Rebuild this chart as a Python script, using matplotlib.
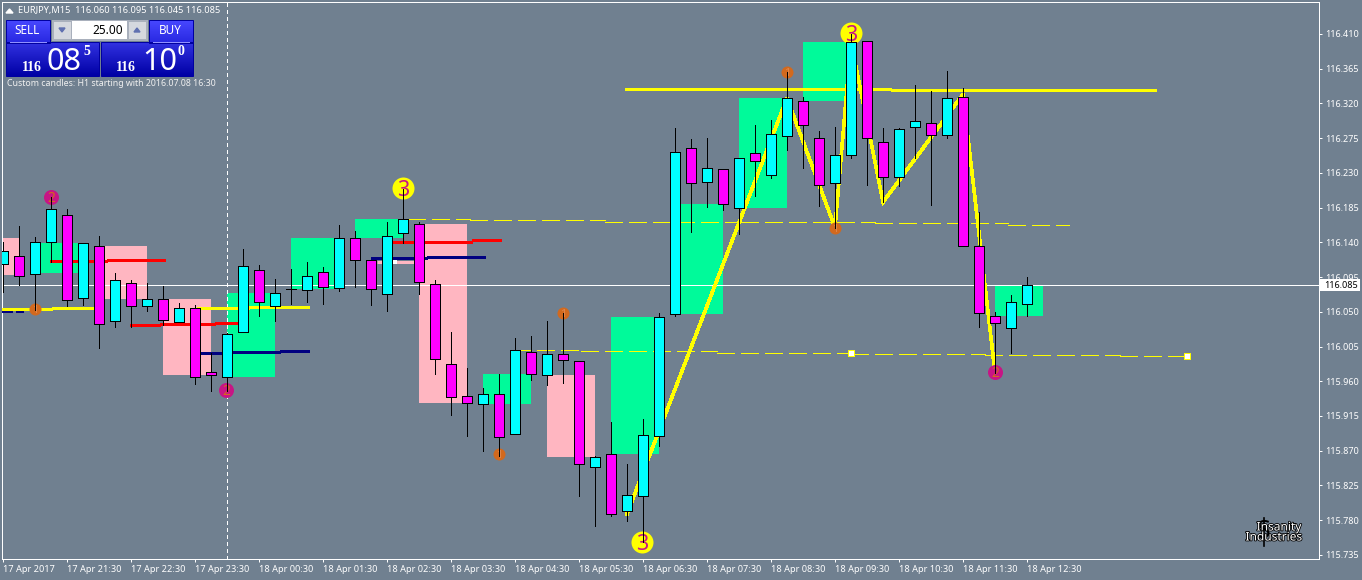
import numpy as np
import matplotlib
matplotlib.use("Agg")
import matplotlib.pyplot as plt
import matplotlib.patheffects as pe
from matplotlib.patches import Rectangle, Polygon

# M15 candles, index 0 is the first bar of the chart
opens = [116.112, 116.122, 116.099, 116.140, 116.175, 116.068, 116.135, 116.038, 116.087, 116.058,
         116.067, 116.037, 116.055, 115.972, 115.966, 116.024, 116.104, 116.058, 116.079, 116.078,
         116.102, 116.081, 116.146, 116.117, 116.073, 116.152, 116.164, 116.086, 115.982, 115.941,
         115.931, 115.944, 115.892, 115.998, 115.968, 115.995, 115.986, 115.849, 115.866, 115.792,
         115.811, 115.889, 116.047, 116.262, 116.218, 116.235, 116.185, 116.256, 116.227, 116.278,
         116.323, 116.275, 116.217, 116.253, 116.401, 116.270, 116.225, 116.289, 116.295, 116.279,
         116.328, 116.135, 116.045, 116.029, 116.060]
highs = [116.140, 116.161, 116.147, 116.199, 116.183, 116.139, 116.148, 116.100, 116.091, 116.087,
         116.083, 116.061, 116.059, 115.997, 116.023, 116.131, 116.111, 116.092, 116.105, 116.115,
         116.108, 116.162, 116.155, 116.117, 116.166, 116.209, 116.166, 116.091, 116.024, 115.977,
         115.951, 115.969, 116.016, 116.019, 116.038, 116.048, 115.986, 115.863, 115.907, 115.853,
         115.911, 116.048, 116.288, 116.274, 116.275, 116.235, 116.249, 116.292, 116.299, 116.361,
         116.328, 116.284, 116.289, 116.410, 116.401, 116.288, 116.288, 116.344, 116.336, 116.362,
         116.340, 116.179, 116.050, 116.072, 116.095]
lows = [116.076, 116.085, 116.052, 116.115, 116.058, 116.059, 116.003, 116.030, 116.030, 116.051,
        116.033, 116.037, 115.956, 115.947, 115.947, 116.024, 116.045, 116.038, 116.060, 116.063,
        116.060, 116.077, 116.082, 116.059, 116.051, 116.139, 116.073, 115.969, 115.916, 115.889,
        115.870, 115.863, 115.892, 115.962, 115.955, 115.958, 115.811, 115.772, 115.785, 115.779,
        115.752, 115.876, 116.045, 116.153, 116.186, 116.182, 116.151, 116.200, 116.223, 116.260,
        116.236, 116.187, 116.159, 116.249, 116.214, 116.192, 116.213, 116.249, 116.188, 116.275,
        116.135, 116.030, 115.971, 115.997, 116.045]
closes = [116.129, 116.096, 116.140, 116.183, 116.065, 116.139, 116.034, 116.091, 116.058, 116.067,
          116.039, 116.055, 115.966, 115.968, 116.021, 116.109, 116.063, 116.074, 116.079, 116.096,
          116.082, 116.146, 116.117, 116.079, 116.148, 116.170, 116.089, 115.989, 115.940, 115.932,
          115.944, 115.888, 116.001, 115.969, 115.995, 115.988, 115.853, 115.862, 115.788, 115.813,
          115.890, 116.043, 116.257, 116.217, 116.236, 116.190, 116.249, 116.245, 116.280, 116.327,
          116.292, 116.214, 116.253, 116.400, 116.275, 116.225, 116.287, 116.297, 116.279, 116.327,
          116.135, 116.048, 116.035, 116.063, 116.085]

# H1 custom candles: first bar, top price, bottom price
box_start = [-2, 2, 6, 10, 14, 18, 22, 26, 30, 34, 38, 42, 46, 50, 62]
box_top = [116.146, 116.139, 116.135, 116.067, 116.074, 116.146, 116.170, 116.164,
           115.969, 115.968, 116.043, 116.190, 116.327, 116.400, 116.083]
box_bottom = [116.098, 116.100, 116.067, 115.968, 115.966, 116.079, 116.146, 115.932,
              115.931, 115.862, 115.866, 116.047, 116.185, 116.323, 116.045]
box_green = [False, True, False, False, True, True, True, False,
             True, False, True, True, True, True, True]

# thick level lines (from bar, to bar, price)
red_levels = [(2.94, 6.5, 116.116), (6.5, 10.1, 116.117), (7.94, 9.81, 116.033), (9.81, 13.25, 116.034),
              (13.25, 14.8, 116.035), (24.4, 29.3, 116.141), (29.3, 31.1, 116.143)]
navy_levels = [(-0.06, 0.56, 116.051), (0.81, 1.25, 116.051), (12.3, 14.3, 115.996), (14.3, 17.3, 115.998),
               (17.3, 19.1, 115.999), (23.0, 26.5, 116.120), (26.5, 30.1, 116.121)]
yellow_levels = [(-0.06, 3.06, 116.054), (3.06, 6.06, 116.055), (12.1, 15.4, 116.055), (15.4, 19.1, 116.056),
                 (38.9, 55.5, 116.339), (55.5, 72.06, 116.337)]
# thin dashed levels
dash_levels = [(25.3, 29.2, 116.170), (29.2, 37.6, 116.169), (37.6, 46.1, 116.167), (46.1, 54.5, 116.166),
               (54.5, 62.8, 116.165), (62.8, 66.6, 116.163),
               (31.9, 36.1, 116.000), (36.1, 44.6, 115.999), (44.6, 53.0, 115.997), (53.0, 61.4, 115.995),
               (61.4, 69.8, 115.994), (69.8, 74.0, 115.993)]
square_x = [53, 74]
square_y = [115.997, 115.993]

# zigzag
zig_x = [39, 49, 52, 53, 55, 60, 62]
zig_y = [115.788, 116.327, 116.159, 116.400, 116.192, 116.332, 115.971]

# numbered dots
dots3_x = [25, 39.94, 53]
dots3_y = [116.210, 115.752, 116.411]
dots2_x = [3, 13.94, 62]
dots2_y = [116.199, 115.949, 115.972]
dots1_x = [2, 35, 31, 49, 52]
dots1_y = [116.054, 116.048, 115.866, 116.361, 116.159]

last_price = 116.085
crosshair_bar = 14

y_ticks = [115.735, 115.780, 115.825, 115.870, 115.915, 115.960, 116.005, 116.050,
           116.095, 116.140, 116.185, 116.230, 116.275, 116.320, 116.365, 116.410]
x_ticks = list(range(0, 65, 4))
x_labels = ["17 Apr 2017", "17 Apr 21:30", "17 Apr 22:30", "17 Apr 23:30", "18 Apr 00:30", "18 Apr 01:30",
            "18 Apr 02:30", "18 Apr 03:30", "18 Apr 04:30", "18 Apr 05:30", "18 Apr 06:30", "18 Apr 07:30",
            "18 Apr 08:30", "18 Apr 09:30", "18 Apr 10:30", "18 Apr 11:30", "18 Apr 12:30"]

BG = "#708090"
PX = 0.72  # one pixel in points at dpi 100
FONT = ["Noto Sans", "DejaVu Sans"]
plt.rcParams["font.family"] = FONT

fig = plt.figure(figsize=(13.62, 5.80), dpi=100, facecolor=BG)
ax = fig.add_axes([2 / 1362, 21 / 580, 1317 / 1362, 557 / 580], facecolor=BG)
ax.set_xlim(-1 / 16, 1316 / 16)
ax.set_ylim(116.454 - 0.0012957 * 559, 116.454 - 0.0012957 * 2)

for s in ax.spines.values():
    s.set_color("white")
    s.set_linewidth(PX)

ax.yaxis.tick_right()
ax.set_yticks(y_ticks)
ax.set_yticklabels([f"{v:.3f}" for v in y_ticks])
ax.set_xticks(x_ticks)
ax.set_xticklabels(x_labels, ha="left")
ax.tick_params(axis="y", colors="white", length=2.5, width=PX, labelsize=6.5, pad=2)
ax.tick_params(axis="x", colors="white", length=2.5, width=PX, labelsize=6.6, pad=2)

# boxes
for st, top, bot, g in zip(box_start, box_top, box_bottom, box_green):
    ax.add_patch(Rectangle((st, bot), 3, top - bot, facecolor="#00FA9A" if g else "#FFB6C1",
                           edgecolor="none", zorder=1, antialiased=False, clip_on=True))

# price line and crosshair
ax.axhline(last_price, color="white", lw=PX, zorder=2, antialiased=False)
ax.axvline(crosshair_bar, color="white", lw=PX, ls=(0, (3, 3)), zorder=2, antialiased=False)

# levels
for lev, col in [(red_levels, "#FF0000"), (navy_levels, "#000080"), (yellow_levels, "#FFFF00")]:
    for x0, x1, p in lev:
        ax.plot([x0, x1], [p, p], color=col, lw=3 * PX, solid_capstyle="butt", zorder=3, antialiased=False)
for x0, x1, p in dash_levels:
    ax.plot([x0, x1], [p, p], color="#FFFF00", lw=PX, ls=(0, (18, 6)), zorder=3, antialiased=False)
ax.scatter(square_x, square_y, s=16, marker="s", facecolor="white", edgecolor="#FFFF00", linewidths=PX, zorder=3)

# small pink trace with its white end point
ax.plot([23.4, 25.7], [116.115, 116.115], color="#FFB6C1", lw=3 * PX, solid_capstyle="butt", zorder=3)
ax.scatter([24.5], [116.115], s=9, marker="s", color="white", linewidths=0, zorder=3)

# zigzag
ax.plot(zig_x, zig_y, color="#FFFF00", lw=2.6 * PX, zorder=4, solid_joinstyle="miter", antialiased=False)

# dots
ax.scatter(dots3_x, dots3_y, s=251, color="#FFFF00", linewidths=0, zorder=5)
ax.scatter(dots2_x, dots2_y, s=117, color="#C71585", linewidths=0, zorder=5)
ax.scatter(dots1_x, dots1_y, s=75, color="#D2691E", linewidths=0, zorder=5)
for x, y in zip(dots3_x, dots3_y):
    ax.text(x, y, "3", color="#C71585", fontsize=15.5, fontweight="bold", ha="center", va="center_baseline", zorder=5.5)
for x, y in zip(dots2_x, dots2_y):
    ax.text(x, y, "2", color="#D2691E", fontsize=10, fontweight="bold", ha="center", va="center_baseline", zorder=5.5)
for x, y in zip(dots1_x, dots1_y):
    ax.text(x, y, "1", color="#E08A50", fontsize=8, fontweight="bold", ha="center", va="center_baseline", zorder=5.5)

# candles
idx = np.arange(len(opens))
opens_a, highs_a, lows_a, closes_a = map(np.array, (opens, highs, lows, closes))
ax.vlines(idx, lows_a, highs_a, color="black", lw=PX, zorder=6, antialiased=False)
up = closes_a >= opens_a
ax.bar(idx[up], (closes_a - opens_a)[up], bottom=opens_a[up], width=10 / 16, color="#00FFFF",
       edgecolor="black", linewidth=PX, zorder=7, antialiased=False)
ax.bar(idx[~up], (opens_a - closes_a)[~up], bottom=closes_a[~up], width=10 / 16, color="#FF00FF",
       edgecolor="black", linewidth=PX, zorder=7, antialiased=False)

# pixel layer for the trading panel and texts
ui = fig.add_axes([0, 0, 1, 1], facecolor="none")
ui.set_axis_off()


def gradient(x0, x1, y0, y1, c0, c1):
    g = np.linspace(0, 1, 32)[:, None, None]
    img = (1 - g) * np.array(c0)[None, None, :] + g * np.array(c1)[None, None, :]
    ui.imshow(img / 255, extent=(x0, x1, y1, y0), aspect="auto", interpolation="bilinear", zorder=2)
    ui.add_patch(Rectangle((x0, y0), x1 - x0, y1 - y0, fill=False, edgecolor="#0000A0", lw=PX, zorder=3))


ui.text(18, 10.5, "EURJPY,M15  116.060 116.095 116.045 116.085", color="white", fontsize=6.65, va="center")
ui.add_patch(Polygon([[6, 13], [13, 13], [9.5, 9]], color="white", zorder=3))

gradient(6, 50, 20, 43, (72, 72, 255), (40, 40, 225))
gradient(149, 193, 20, 43, (72, 72, 255), (40, 40, 225))
gradient(6, 99, 42, 76, (50, 50, 225), (0, 0, 165))
gradient(101, 193, 42, 76, (50, 50, 225), (0, 0, 165))
ui.plot([10, 46], [42, 42], color="#9090FF", lw=PX, zorder=4)
ui.plot([153, 189], [42, 42], color="#9090FF", lw=PX, zorder=4)

ui.add_patch(Rectangle((52, 20), 96, 21, facecolor="#A9B0BC", edgecolor="none", zorder=2))
ui.add_patch(Rectangle((72, 21), 55, 18, facecolor="white", edgecolor="none", zorder=3))
ui.add_patch(Rectangle((54, 22), 17, 17, facecolor="#D5D8DE", edgecolor="none", zorder=3))
ui.add_patch(Rectangle((129, 22), 17, 17, facecolor="#D5D8DE", edgecolor="none", zorder=3))
ui.add_patch(Polygon([[59, 28], [65, 28], [62, 32]], color="#6070B0", zorder=4))
ui.add_patch(Polygon([[134, 32], [140, 32], [137, 28]], color="#6070B0", zorder=4))

ui.text(27, 31, "SELL", color="white", fontsize=8.5, ha="center", va="center", zorder=5)
ui.text(170, 31, "BUY", color="white", fontsize=8.5, ha="center", va="center", zorder=5)
ui.text(123, 30, "25.00", color="black", fontsize=8.5, ha="right", va="center", zorder=5)

ui.text(22, 71, "116", color="white", fontsize=10, fontweight="bold", family="Liberation Serif", va="baseline", zorder=5)
ui.text(46, 70, "08", color="white", fontsize=22, va="baseline", zorder=5)
ui.text(83, 55, "5", color="white", fontsize=10, fontweight="bold", family="Liberation Serif", va="baseline", zorder=5)
ui.text(116, 71, "116", color="white", fontsize=10, fontweight="bold", family="Liberation Serif", va="baseline", zorder=5)
ui.text(142, 70, "10", color="white", fontsize=22, va="baseline", zorder=5)
ui.text(178, 55, "0", color="white", fontsize=10, fontweight="bold", family="Liberation Serif", va="baseline", zorder=5)

ui.text(7, 84, "Custom candles: H1 starting with 2016.07.08 16:30", color="#F0F0F0", fontsize=6.35, va="center", zorder=5)

# current price tag
ui.add_patch(Rectangle((1320, 279), 40, 12, facecolor="white", edgecolor="none", zorder=3))
ui.text(1324, 285, f"{last_price:.3f}", color="black", fontsize=6.5, va="center", zorder=5)

# logo
shadow = [pe.withStroke(linewidth=1.2, foreground="black")]
ui.plot([1264, 1264], [518, 546], color="black", lw=1.2, zorder=4)
ui.text(1264, 531, "S", color="black", fontsize=18, ha="center", va="center", zorder=4)
ui.text(1279, 527, "Insanity", color="white", fontsize=8.6, ha="center", va="center", zorder=5, path_effects=shadow)
ui.text(1274, 537, "Industries", color="white", fontsize=8.6, ha="center", va="center", zorder=5, path_effects=shadow)

ui.set_xlim(0, 1362)
ui.set_ylim(580, 0)

fig.savefig("out.png", dpi=100, facecolor=BG)
